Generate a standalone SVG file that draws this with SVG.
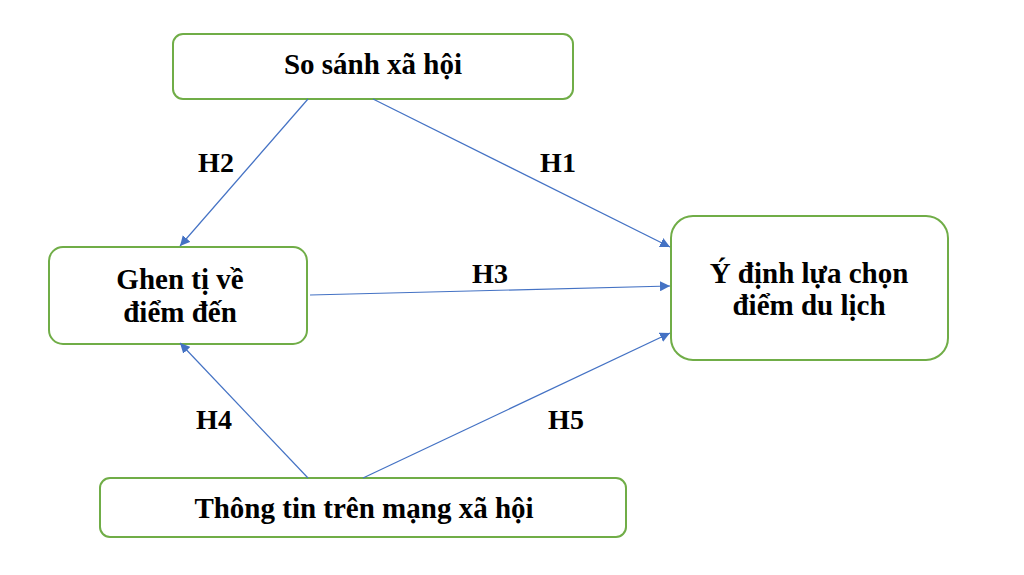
<svg xmlns="http://www.w3.org/2000/svg" width="1024" height="575" viewBox="0 0 1024 575">
<style>
.box{fill:#fff;stroke:#70AD47;stroke-width:2}
.t{font-family:"Liberation Serif","Times New Roman",serif;font-weight:bold;font-size:29px;fill:#000;text-anchor:middle}
.l{font-family:"Liberation Serif","Times New Roman",serif;font-weight:bold;font-size:28px;fill:#000;text-anchor:middle}
.c{stroke:#4472C4;stroke-width:1.2;fill:none;marker-end:url(#ah)}
</style>
<defs>
<marker id="ah" viewBox="0 0 10 10" refX="10" refY="5" markerWidth="10" markerHeight="10" markerUnits="userSpaceOnUse" orient="auto">
<path d="M0,0 L10,5 L0,10 z" fill="#4472C4"/>
</marker>
</defs>
<rect width="1024" height="575" fill="#fff"/>
<g id="n1"><rect class="box" x="173" y="34" width="400" height="65" rx="10"/><text class="t" x="373" y="74">So sánh xã hội</text></g>
<g id="n2"><rect class="box" x="49" y="247" width="258" height="97" rx="14"/><text class="t" x="180" y="289">Ghen tị về</text><text class="t" x="180" y="322">điểm đến</text></g>
<g id="n3"><rect class="box" x="671" y="216" width="277" height="144" rx="22"/><text class="t" x="809" y="283">Ý định lựa chọn</text><text class="t" x="809" y="315">điểm du lịch</text></g>
<g id="n4"><rect class="box" x="100" y="478" width="526" height="59" rx="10"/><text class="t" x="364" y="518">Thông tin trên mạng xã hội</text></g>
<g id="connectors">
<line class="c" x1="308" y1="99" x2="180" y2="246"/>
<line class="c" x1="373" y1="99" x2="670" y2="247"/>
<line class="c" x1="310" y1="295" x2="670" y2="286"/>
<line class="c" x1="308" y1="478" x2="180" y2="343"/>
<line class="c" x1="363" y1="478" x2="670" y2="333"/>
<text class="l" x="216" y="172">H2</text>
<text class="l" x="558" y="172">H1</text>
<text class="l" x="490" y="283">H3</text>
<text class="l" x="214" y="429">H4</text>
<text class="l" x="566" y="429">H5</text>
</g>
</svg>
